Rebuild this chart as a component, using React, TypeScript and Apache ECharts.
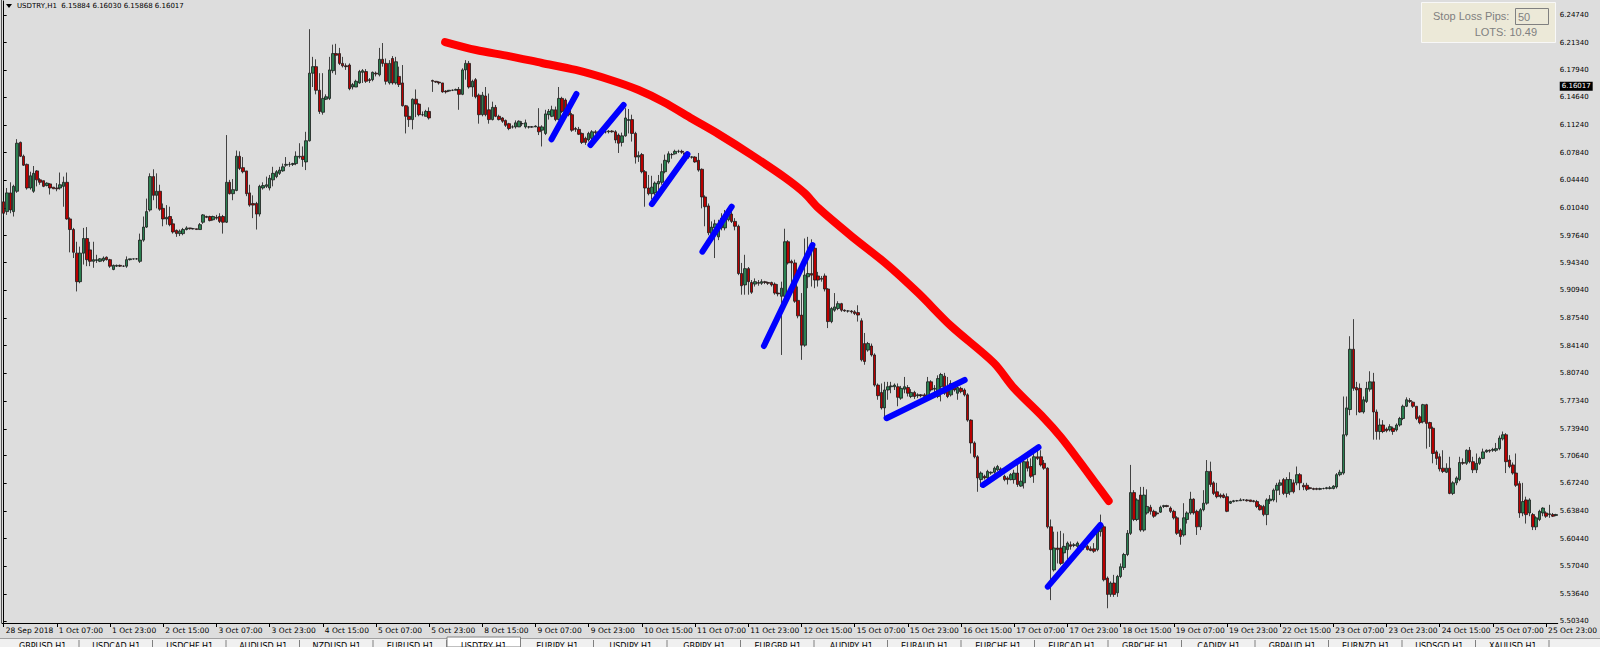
import React, { useEffect, useRef } from "react";
import * as echarts from "echarts";

type Bar = [number, number, number, number]; // open, close, low, high

// 28 Sep - 4 Oct
const BARS_A: Bar[] = [
  [6.018,6.004,6.000,6.020],[6.006,6.029,6.002,6.035],[6.029,6.008,6.004,6.042],[6.006,6.037,6.000,6.039],
  [6.031,6.090,6.029,6.095],[6.091,6.074,6.073,6.092],[6.074,6.063,6.062,6.076],[6.064,6.035,6.033,6.065],
  [6.035,6.050,6.033,6.055],[6.031,6.053,6.029,6.062],[6.056,6.045,6.037,6.057],[6.045,6.042,6.039,6.047],
  [6.044,6.037,6.036,6.044],[6.038,6.041,6.037,6.042],[6.040,6.035,6.027,6.041],[6.036,6.034,6.034,6.036],
  [6.035,6.034,6.031,6.041],[6.035,6.039,6.033,6.054],[6.037,6.042,6.012,6.049],[6.042,5.997,5.996,6.054],
  [5.997,5.984,5.956,5.999],[5.984,5.956,5.949,5.986],[5.955,5.920,5.908,5.969],[5.920,5.955,5.918,5.963],
  [5.955,5.973,5.941,5.986],[5.973,5.947,5.939,5.987],[5.959,5.945,5.939,5.969],[5.945,5.947,5.937,5.969],
  [5.946,5.947,5.943,5.953],[5.945,5.948,5.944,5.949],[5.946,5.949,5.944,5.951],[5.950,5.947,5.946,5.951],
  [5.947,5.939,5.937,5.948],[5.935,5.940,5.934,5.941],[5.939,5.940,5.938,5.941],[5.940,5.939,5.938,5.941],
  [5.939,5.939,5.938,5.940],[5.939,5.947,5.937,5.951],[5.947,5.948,5.946,5.948],[5.948,5.948,5.947,5.948],
  [5.948,5.948,5.947,5.949],[5.945,5.971,5.943,5.979],[5.971,5.987,5.969,6.000],[5.987,6.006,5.986,6.022],
  [6.008,6.049,6.006,6.053],[6.049,6.026,6.020,6.058],[6.026,6.031,6.010,6.053],[6.031,6.009,6.007,6.039],
  [6.010,5.997,5.988,6.016],[5.997,5.999,5.990,6.014],[6.000,5.990,5.988,6.012],[5.991,5.981,5.979,5.997],
  [5.983,5.979,5.975,5.984],[5.979,5.982,5.976,5.984],[5.979,5.984,5.977,5.986],[5.984,5.986,5.983,5.988],
  [5.986,5.985,5.984,5.986],[5.985,5.985,5.984,5.986],[5.985,5.984,5.984,5.985],[5.984,5.990,5.984,5.992],
  [5.993,6.002,5.991,6.003],[6.000,5.999,5.998,6.001],[6.000,5.995,5.994,6.001],[5.996,6.000,5.995,6.001],
  [5.999,5.998,5.996,6.002],[6.000,5.994,5.992,6.004],[6.000,5.993,5.979,6.002],[5.993,6.042,5.992,6.100],
  [6.042,6.028,6.027,6.045],[6.028,6.033,6.020,6.046],[6.032,6.074,6.031,6.081],[6.074,6.059,6.057,6.080],
  [6.060,6.055,6.053,6.073],[6.056,6.028,6.025,6.056],[6.029,6.014,6.012,6.039],[6.016,6.014,5.998,6.026],
  [6.016,6.003,5.984,6.018],[6.003,6.037,6.000,6.039],[6.035,6.038,6.033,6.042],[6.037,6.039,6.035,6.049],
  [6.035,6.047,6.032,6.051],[6.045,6.053,6.037,6.061],[6.049,6.055,6.047,6.057],[6.053,6.057,6.051,6.061],
  [6.056,6.061,6.055,6.065],[6.063,6.064,6.061,6.073],[6.064,6.064,6.061,6.067],[6.064,6.065,6.062,6.066],
  [6.065,6.074,6.063,6.080],[6.073,6.074,6.071,6.090],[6.074,6.070,6.061,6.086],[6.067,6.093,6.057,6.104],
  [6.093,6.176,6.092,6.230],[6.176,6.184,6.159,6.196],[6.184,6.155,6.150,6.193],
];

// 4 Oct - 9 Oct
const BARS_B: Bar[] = [
  [6.155,6.129,6.126,6.176],[6.128,6.145,6.125,6.176],[6.144,6.147,6.143,6.150],[6.145,6.180,6.143,6.196],
  [6.179,6.200,6.176,6.211],[6.200,6.198,6.174,6.212],[6.200,6.188,6.186,6.207],[6.188,6.185,6.183,6.196],
  [6.185,6.184,6.180,6.188],[6.186,6.157,6.155,6.188],[6.159,6.162,6.156,6.164],[6.159,6.166,6.159,6.168],
  [6.164,6.178,6.163,6.180],[6.177,6.179,6.164,6.181],[6.178,6.166,6.164,6.181],[6.168,6.167,6.164,6.170],
  [6.168,6.177,6.166,6.178],[6.176,6.175,6.172,6.178],[6.174,6.193,6.172,6.207],[6.193,6.188,6.184,6.213],
  [6.188,6.166,6.162,6.194],[6.164,6.188,6.162,6.192],[6.194,6.164,6.162,6.197],[6.164,6.190,6.162,6.196],
  [6.172,6.162,6.159,6.184],[6.164,6.136,6.135,6.186],[6.136,6.123,6.102,6.137],[6.123,6.119,6.110,6.135],
  [6.119,6.144,6.107,6.145],[6.144,6.138,6.122,6.156],[6.138,6.125,6.123,6.139],[6.125,6.125,6.123,6.129],
  [6.123,6.129,6.123,6.131],[6.129,6.121,6.119,6.134],[6.167,6.166,6.153,6.168],[6.166,6.165,6.164,6.166],
  [6.165,6.164,6.162,6.166],[6.164,6.153,6.152,6.164],[6.154,6.153,6.151,6.155],[6.154,6.155,6.153,6.155],
  [6.155,6.155,6.154,6.156],[6.155,6.156,6.155,6.157],[6.156,6.150,6.131,6.159],[6.150,6.180,6.149,6.182],
  [6.180,6.188,6.168,6.192],[6.188,6.159,6.157,6.191],[6.159,6.166,6.147,6.168],[6.168,6.147,6.145,6.170],
  [6.149,6.125,6.114,6.151],[6.125,6.149,6.123,6.153],[6.148,6.125,6.123,6.159],[6.131,6.119,6.114,6.151],
  [6.119,6.134,6.118,6.141],[6.134,6.123,6.122,6.137],[6.123,6.119,6.118,6.125],[6.121,6.117,6.115,6.122],
  [6.118,6.112,6.110,6.119],[6.114,6.108,6.106,6.115],[6.110,6.110,6.108,6.112],[6.110,6.115,6.108,6.118],
  [6.110,6.117,6.110,6.118],[6.114,6.114,6.111,6.117],[6.110,6.115,6.108,6.119],[6.110,6.110,6.108,6.111],
  [6.110,6.110,6.109,6.111],[6.110,6.111,6.110,6.112],[6.110,6.104,6.100,6.133],[6.106,6.110,6.086,6.112],
  [6.102,6.126,6.100,6.131],[6.125,6.129,6.119,6.132],[6.123,6.131,6.122,6.136],[6.131,6.119,6.117,6.135],
  [6.119,6.145,6.118,6.159],[6.145,6.129,6.127,6.147],[6.143,6.127,6.125,6.145],[6.133,6.125,6.123,6.135],
  [6.125,6.106,6.104,6.127],[6.108,6.107,6.104,6.110],[6.107,6.101,6.100,6.110],[6.102,6.091,6.089,6.103],
  [6.096,6.091,6.088,6.098],[6.094,6.102,6.092,6.104],[6.096,6.104,6.094,6.106],[6.104,6.103,6.101,6.106],
  [6.103,6.104,6.102,6.105],[6.104,6.104,6.103,6.105],[6.104,6.104,6.102,6.106],[6.104,6.105,6.102,6.106],
  [6.105,6.104,6.103,6.106],[6.104,6.094,6.090,6.106],[6.100,6.090,6.078,6.102],[6.091,6.099,6.086,6.103],
  [6.099,6.121,6.098,6.133],
];

// 10 Oct - 15 Oct
const BARS_C: Bar[] = [
  [6.118,6.119,6.102,6.132],[6.119,6.102,6.092,6.125],[6.102,6.073,6.065,6.104],[6.073,6.075,6.067,6.080],
  [6.076,6.055,6.053,6.078],[6.055,6.035,6.012,6.057],[6.035,6.028,6.026,6.051],[6.028,6.036,6.021,6.050],
  [6.029,6.041,6.026,6.043],[6.040,6.043,6.031,6.051],[6.042,6.055,6.039,6.065],[6.055,6.069,6.053,6.076],
  [6.067,6.077,6.065,6.080],[6.076,6.076,6.071,6.078],[6.077,6.080,6.076,6.082],[6.080,6.080,6.078,6.082],
  [6.080,6.079,6.077,6.082],[6.078,6.076,6.073,6.078],[6.074,6.073,6.071,6.076],[6.073,6.073,6.071,6.074],
  [6.073,6.067,6.066,6.074],[6.069,6.057,6.055,6.078],[6.058,6.024,6.010,6.059],[6.024,6.012,5.988,6.026],
  [6.013,5.980,5.977,6.016],[5.979,5.987,5.977,5.994],[5.986,5.991,5.949,5.996],[5.975,5.986,5.971,5.996],
  [5.986,5.998,5.983,6.004],[5.986,6.002,5.983,6.008],[5.996,6.004,5.994,6.010],[6.003,5.994,5.992,6.011],
  [5.994,5.988,5.983,5.998],[5.988,5.930,5.928,5.990],[5.930,5.915,5.904,5.943],[5.916,5.936,5.904,5.953],
  [5.936,5.920,5.904,5.938],[5.919,5.907,5.905,5.922],[5.917,5.920,5.914,5.924],[5.919,5.918,5.915,5.922],
  [5.918,5.920,5.916,5.923],[5.920,5.919,5.917,5.921],[5.919,5.918,5.916,5.920],[5.919,5.916,5.914,5.920],
  [5.917,5.906,5.904,5.919],[5.906,5.905,5.902,5.917],[5.902,5.912,5.830,5.920],[5.902,5.969,5.900,5.985],
  [5.969,5.943,5.941,5.971],[5.945,5.943,5.914,5.947],[5.943,5.896,5.894,5.947],[5.897,5.878,5.875,5.914],
  [5.879,5.842,5.824,5.906],[5.842,5.928,5.840,5.973],[5.926,5.930,5.912,5.975],[5.930,5.928,5.914,5.972],
  [5.961,5.922,5.912,5.963],[5.927,5.922,5.914,5.932],[5.924,5.923,5.920,5.927],[5.927,5.911,5.908,5.930],
  [5.911,5.871,5.863,5.912],[5.871,5.887,5.869,5.889],[5.885,5.889,5.883,5.906],[5.887,5.893,5.885,5.896],
  [5.893,5.885,5.883,5.894],[5.885,5.884,5.883,5.886],[5.884,5.884,5.882,5.885],[5.884,5.883,5.881,5.885],
  [5.883,5.881,5.879,5.885],[5.882,5.879,5.871,5.891],[5.872,5.824,5.822,5.875],[5.844,5.822,5.818,5.857],
  [5.836,5.844,5.834,5.846],[5.841,5.830,5.828,5.844],[5.830,5.793,5.791,5.832],[5.793,5.780,5.775,5.795],
  [5.784,5.765,5.763,5.795],[5.765,5.787,5.754,5.797],[5.787,5.791,5.775,5.797],[5.791,5.792,5.783,5.797],
  [5.791,5.793,5.787,5.795],[5.791,5.778,5.767,5.795],[5.777,5.789,5.775,5.792],[5.788,5.791,5.783,5.803],
  [5.790,5.783,5.779,5.793],[5.779,5.784,5.777,5.788],[5.784,5.779,5.776,5.786],[5.780,5.781,5.777,5.783],
  [5.781,5.780,5.778,5.782],[5.781,5.779,5.777,5.783],[5.779,5.797,5.777,5.803],[5.797,5.787,5.785,5.799],
  [5.788,5.789,5.783,5.793],
];

// 16 Oct - 19 Oct
const BARS_D: Bar[] = [
  [5.779,5.801,5.777,5.805],[5.791,5.806,5.773,5.808],[5.804,5.783,5.781,5.808],[5.791,5.779,5.777,5.803],
  [5.781,5.795,5.779,5.799],[5.792,5.787,5.785,5.793],[5.783,5.790,5.775,5.793],[5.789,5.785,5.783,5.791],
  [5.787,5.781,5.779,5.789],[5.781,5.750,5.748,5.783],[5.750,5.722,5.709,5.751],[5.722,5.705,5.703,5.724],
  [5.705,5.679,5.662,5.707],[5.677,5.685,5.668,5.687],[5.681,5.679,5.677,5.683],[5.679,5.687,5.677,5.689],
  [5.685,5.686,5.683,5.687],[5.686,5.691,5.684,5.693],[5.689,5.693,5.687,5.695],[5.690,5.685,5.681,5.692],
  [5.681,5.677,5.675,5.683],[5.679,5.677,5.671,5.681],[5.677,5.683,5.676,5.685],[5.677,5.685,5.672,5.689],
  [5.685,5.671,5.668,5.701],[5.669,5.675,5.668,5.699],[5.673,5.699,5.666,5.705],[5.699,5.691,5.687,5.703],
  [5.693,5.681,5.679,5.703],[5.683,5.705,5.673,5.716],[5.705,5.703,5.701,5.718],[5.705,5.695,5.693,5.713],
  [5.697,5.691,5.689,5.701],[5.691,5.619,5.617,5.692],[5.619,5.591,5.529,5.628],[5.566,5.593,5.564,5.613],
  [5.593,5.591,5.574,5.613],[5.593,5.574,5.572,5.614],[5.587,5.595,5.574,5.611],[5.591,5.599,5.578,5.601],
  [5.597,5.595,5.591,5.601],[5.596,5.597,5.594,5.599],[5.595,5.599,5.593,5.601],[5.596,5.595,5.593,5.597],
  [5.595,5.594,5.591,5.597],[5.595,5.591,5.590,5.597],[5.592,5.590,5.589,5.595],[5.592,5.589,5.587,5.599],
  [5.591,5.617,5.589,5.621],[5.613,5.619,5.607,5.634],[5.619,5.554,5.552,5.621],[5.556,5.536,5.519,5.558],
  [5.536,5.550,5.533,5.552],[5.550,5.536,5.533,5.560],[5.538,5.558,5.533,5.560],[5.558,5.570,5.556,5.574],
  [5.569,5.585,5.566,5.587],[5.585,5.611,5.583,5.615],[5.611,5.661,5.609,5.695],[5.661,5.628,5.626,5.664],
  [5.628,5.652,5.626,5.654],[5.658,5.615,5.613,5.668],[5.615,5.658,5.613,5.668],[5.636,5.644,5.634,5.665],
  [5.643,5.638,5.634,5.646],[5.638,5.632,5.630,5.640],[5.636,5.635,5.633,5.638],[5.637,5.643,5.636,5.645],
  [5.644,5.645,5.642,5.646],[5.645,5.644,5.643,5.646],[5.642,5.638,5.636,5.644],[5.638,5.630,5.628,5.640],
  [5.630,5.611,5.609,5.632],[5.615,5.607,5.597,5.617],[5.609,5.630,5.607,5.648],[5.628,5.636,5.623,5.638],
  [5.636,5.653,5.634,5.662],[5.653,5.636,5.634,5.654],[5.638,5.619,5.609,5.640],[5.619,5.640,5.615,5.642],
  [5.640,5.648,5.638,5.664],[5.648,5.687,5.646,5.701],[5.687,5.671,5.668,5.699],[5.673,5.660,5.658,5.675],
  [5.662,5.656,5.654,5.673],[5.658,5.656,5.654,5.660],[5.658,5.655,5.654,5.660],[5.656,5.638,5.637,5.660],
  [5.648,5.650,5.647,5.651],[5.650,5.651,5.649,5.652],[5.651,5.651,5.650,5.652],[5.651,5.652,5.651,5.654],
  [5.652,5.652,5.651,5.653],
];

// 22 Oct - 26 Oct
const BARS_E: Bar[] = [
  [5.652,5.651,5.650,5.653],[5.652,5.650,5.650,5.652],[5.651,5.650,5.649,5.652],[5.650,5.644,5.642,5.652],
  [5.645,5.640,5.639,5.647],[5.644,5.634,5.632,5.646],[5.634,5.652,5.621,5.654],[5.651,5.653,5.647,5.658],
  [5.652,5.664,5.650,5.666],[5.664,5.670,5.649,5.673],[5.670,5.673,5.658,5.677],[5.677,5.660,5.658,5.679],
  [5.660,5.677,5.655,5.680],[5.662,5.677,5.658,5.686],[5.673,5.662,5.660,5.677],[5.673,5.683,5.670,5.693],
  [5.683,5.673,5.664,5.685],[5.670,5.668,5.664,5.673],[5.670,5.665,5.663,5.673],[5.667,5.666,5.665,5.668],
  [5.666,5.665,5.664,5.667],[5.666,5.665,5.664,5.667],[5.665,5.666,5.664,5.667],[5.666,5.666,5.665,5.667],
  [5.666,5.667,5.665,5.668],[5.666,5.667,5.665,5.669],[5.666,5.669,5.665,5.670],[5.668,5.683,5.666,5.685],
  [5.683,5.686,5.681,5.689],[5.685,5.732,5.683,5.779],[5.732,5.765,5.730,5.779],[5.763,5.837,5.756,5.853],
  [5.837,5.789,5.786,5.874],[5.790,5.787,5.756,5.797],[5.789,5.760,5.759,5.795],[5.760,5.775,5.758,5.779],
  [5.773,5.789,5.771,5.797],[5.788,5.797,5.785,5.810],[5.797,5.760,5.726,5.808],[5.760,5.736,5.726,5.763],
  [5.736,5.744,5.726,5.752],[5.744,5.736,5.734,5.750],[5.739,5.737,5.735,5.741],[5.738,5.742,5.736,5.745],
  [5.740,5.736,5.732,5.742],[5.738,5.744,5.736,5.746],[5.744,5.752,5.742,5.754],[5.752,5.767,5.750,5.769],
  [5.767,5.775,5.766,5.778],[5.774,5.773,5.771,5.777],[5.772,5.767,5.765,5.773],[5.767,5.752,5.750,5.767],
  [5.754,5.747,5.745,5.756],[5.748,5.769,5.746,5.770],[5.769,5.746,5.715,5.770],[5.747,5.740,5.717,5.748],
  [5.740,5.709,5.697,5.742],[5.711,5.703,5.695,5.713],[5.705,5.690,5.687,5.709],[5.691,5.687,5.685,5.713],
  [5.686,5.691,5.685,5.697],[5.691,5.660,5.659,5.705],[5.660,5.673,5.658,5.675],[5.673,5.679,5.670,5.681],
  [5.677,5.698,5.675,5.705],[5.698,5.697,5.695,5.703],[5.697,5.713,5.695,5.714],[5.713,5.699,5.697,5.717],
  [5.699,5.689,5.685,5.705],[5.689,5.697,5.685,5.709],[5.697,5.703,5.695,5.705],[5.703,5.711,5.702,5.715],
  [5.711,5.713,5.710,5.714],[5.713,5.712,5.710,5.714],[5.713,5.714,5.711,5.716],[5.713,5.715,5.711,5.722],
  [5.715,5.728,5.713,5.731],[5.727,5.732,5.725,5.736],[5.732,5.699,5.685,5.734],[5.701,5.693,5.691,5.707],
  [5.695,5.685,5.683,5.698],[5.685,5.670,5.668,5.709],[5.672,5.636,5.630,5.675],[5.636,5.650,5.632,5.673],
  [5.652,5.634,5.623,5.656],[5.636,5.652,5.632,5.654],[5.634,5.619,5.615,5.636],[5.619,5.630,5.615,5.632],
  [5.628,5.638,5.626,5.640],[5.636,5.642,5.632,5.643],[5.636,5.632,5.630,5.638],[5.634,5.635,5.630,5.646],
  [5.634,5.632,5.631,5.636],[5.633,5.634,5.632,5.635],
];

const X_LABELS = [
  "28 Sep 2018","1 Oct 07:00","1 Oct 23:00","2 Oct 15:00","3 Oct 07:00","3 Oct 23:00",
  "4 Oct 15:00","5 Oct 07:00","5 Oct 23:00","8 Oct 15:00","9 Oct 07:00","9 Oct 23:00",
  "10 Oct 15:00","11 Oct 07:00","11 Oct 23:00","12 Oct 15:00","15 Oct 07:00","15 Oct 23:00",
  "16 Oct 15:00","17 Oct 07:00","17 Oct 23:00","18 Oct 15:00","19 Oct 07:00","19 Oct 23:00",
  "22 Oct 15:00","23 Oct 07:00","23 Oct 23:00","24 Oct 15:00","25 Oct 07:00","25 Oct 23:00",
];
const X_LABEL_STEP = 16;

const Y_TICKS = [
  5.5034, 5.5364, 5.5704, 5.6044, 5.6384, 5.6724, 5.7064, 5.7394, 5.7734, 5.8074, 5.8414, 5.8754,
  5.9094, 5.9434, 5.9764, 6.0104, 6.0444, 6.0784, 6.1124, 6.1464, 6.1794, 6.2134, 6.2474,
];
const Y_MIN = 5.5009;
const Y_MAX = 6.2646;
const LAST_PRICE = 6.16017;
const HEADER_TEXT = "USDTRY,H1  6.15884 6.16030 6.15868 6.16017";

// hand-drawn objects: [bar index, price]
const RED_CURVE: [number, number][] = [
  [132.8, 6.2142], [142.1, 6.2044], [152.0, 6.1970], [161.9, 6.1885], [172.1, 6.1799],
  [182.6, 6.1676], [191.0, 6.1553], [198.5, 6.1406], [207.2, 6.1197], [215.0, 6.1013],
  [225.0, 6.0755], [235.2, 6.0473], [240.9, 6.0288], [245.1, 6.0104], [255.0, 5.9760],
  [265.2, 5.9429], [275.1, 5.9061], [285.0, 5.8655], [297.9, 5.8201], [303.9, 5.7894],
  [312.9, 5.7526], [318.0, 5.7293], [324.0, 5.6973], [328.2, 5.6740], [332.4, 5.6507],
];
const BLUE_SEGMENTS: [number, number][][] = [
  [[164.8, 6.0948], [172.3, 6.1504]],
  [[176.5, 6.0878], [186.5, 6.1369]],
  [[195.0, 6.0154], [205.7, 6.0764]],
  [[210.2, 5.9568], [219.0, 6.0120]],
  [[228.7, 5.8410], [243.3, 5.9650]],
  [[265.6, 5.7523], [289.1, 5.7993]],
  [[294.6, 5.6704], [311.3, 5.7167]],
  [[314.1, 5.5455], [329.9, 5.6213]],
];

const TABS = [
  "GBPUSD,H1", "USDCAD,H1", "USDCHF,H1", "AUDUSD,H1", "NZDUSD,H1", "EURUSD,H1", "USDTRY,H1",
  "EURJPY,H1", "USDJPY,H1", "GBPJPY,H1", "EURGBP,H1", "AUDJPY,H1", "EURAUD,H1", "EURCHF,H1",
  "EURCAD,H1", "GBPCHF,H1", "CADJPY,H1", "GBPAUD,H1", "EURNZD,H1", "USDSGD,H1", "XAUUSD,H1",
];
const ACTIVE_TAB = "USDTRY,H1";

const UI_FONT = "DejaVu Sans";

export default function App() {
  const ref = useRef<HTMLDivElement>(null);

  useEffect(() => {
    document.body.style.margin = "0";
    const chart = echarts.init(ref.current as HTMLDivElement, null, { renderer: "svg" });
    const bars = [...BARS_A, ...BARS_B, ...BARS_C, ...BARS_D, ...BARS_E];
    const N = bars.length;
    const cats = bars.map((_, i) => String(i));

    const tabW = 73.5;
    const tabGraphics: any[] = [
      { type: "rect", shape: { x: 0, y: 638, width: 1600, height: 9 }, style: { fill: "#f0f0f0" }, z: 100 },
      { type: "line", shape: { x1: 0, y1: 638.5, x2: 1600, y2: 638.5 }, style: { stroke: "#a0a0a0", lineWidth: 1 }, z: 101 },
    ];
    TABS.forEach((t, i) => {
      const x0 = 6 + i * tabW;
      if (t === ACTIVE_TAB) {
        tabGraphics.push({ type: "rect", shape: { x: x0, y: 637, width: tabW, height: 10 }, style: { fill: "#ffffff", stroke: "#808080", lineWidth: 1 }, z: 102 });
      } else {
        tabGraphics.push({ type: "line", shape: { x1: x0 + tabW - 0.5, y1: 640, x2: x0 + tabW - 0.5, y2: 647 }, style: { stroke: "#808080", lineWidth: 1 }, z: 102 });
      }
      tabGraphics.push({
        type: "text", z: 103,
        style: { text: t, x: x0 + tabW / 2, y: 642, align: "center", verticalAlign: "top", fill: "#000", fontSize: 8, fontFamily: UI_FONT },
      });
    });

    chart.setOption({
      animation: false,
      backgroundColor: "#dddddd",
      grid: { left: 2, right: 39, top: 1, bottom: 24, containLabel: false },
      xAxis: [
        {
          type: "category",
          data: cats,
          boundaryGap: true,
          axisLine: { show: true, lineStyle: { color: "#000", width: 1 } },
          axisTick: { show: true, interval: X_LABEL_STEP - 1, alignWithLabel: true, length: 4, lineStyle: { color: "#000" } },
          axisLabel: {
            interval: X_LABEL_STEP - 1,
            align: "left",
            margin: 3,
            padding: [0, 0, 0, 2],
            color: "#000",
            fontSize: 7.5,
            fontFamily: UI_FONT,
            formatter: (_v: string, idx: number) => X_LABELS[Math.round(idx / X_LABEL_STEP)] ?? "",
          },
          splitLine: { show: false },
        },
        { type: "value", min: -0.5, max: N - 0.5, show: false },
      ],
      yAxis: {
        type: "value",
        position: "right",
        min: Y_MIN,
        max: Y_MAX,
        scale: true,
        axisLine: { show: true, lineStyle: { color: "#000", width: 1 } },
        axisTick: { show: true, length: 3, customValues: Y_TICKS, lineStyle: { color: "#000" } },
        axisLabel: {
          customValues: Y_TICKS,
          margin: 2,
          color: "#000",
          fontSize: 7,
          fontFamily: UI_FONT,
          formatter: (v: number) => v.toFixed(5),
        },
        splitLine: { show: false },
      },
      series: [
        {
          type: "candlestick",
          data: bars,
          xAxisIndex: 0,
          barWidth: 3,
          itemStyle: {
            color: "#2a8050",
            color0: "#b80000",
            borderColor: "#1a1a1a",
            borderColor0: "#1a1a1a",
            borderWidth: 0.8,
          },
          markLine: {
            silent: true,
            symbol: ["none", "none"],
            data: [{ yAxis: LAST_PRICE }],
            lineStyle: { color: "transparent", width: 0 },
            label: {
              show: true,
              position: "end",
              distance: 2,
              formatter: LAST_PRICE.toFixed(5),
              color: "#fff",
              backgroundColor: "#000",
              padding: [1, 2, 1, 2],
              fontSize: 7,
              fontFamily: UI_FONT,
            },
          },
        },
        {
          type: "line",
          xAxisIndex: 1,
          data: RED_CURVE,
          smooth: 0.3,
          symbol: "none",
          silent: true,
          z: 5,
          lineStyle: { color: "#ff0000", width: 8, cap: "round", join: "round" },
        },
        ...BLUE_SEGMENTS.map((seg) => ({
          type: "line",
          xAxisIndex: 1,
          data: seg,
          symbol: "none",
          silent: true,
          z: 6,
          lineStyle: { color: "#0000ff", width: 6, cap: "round" },
        })),
      ],
      graphic: [
        { type: "line", shape: { x1: 1.5, y1: 0, x2: 1.5, y2: 623 }, style: { stroke: "#555", lineWidth: 1 }, z: 50 },
        { type: "polygon", shape: { points: [[6, 4], [12, 4], [9, 8]] }, style: { fill: "#000" }, z: 50 },
        {
          type: "text", z: 50,
          style: { text: HEADER_TEXT, x: 17, y: 6, verticalAlign: "middle", fill: "#000", fontSize: 7, fontFamily: UI_FONT },
        },
        { type: "rect", shape: { x: 1421.5, y: 2.5, width: 134, height: 40 }, style: { fill: "#ece9d8", stroke: "#f8f8f8", lineWidth: 1 }, z: 50 },
        {
          type: "text", z: 51,
          style: { text: "Stop Loss Pips:", x: 1433, y: 16, verticalAlign: "middle", fill: "#808080", fontSize: 11, fontFamily: "Liberation Sans" },
        },
        { type: "rect", shape: { x: 1515.5, y: 8.5, width: 33, height: 16 }, style: { fill: "#ece9d8", stroke: "#808080", lineWidth: 1 }, z: 51 },
        {
          type: "text", z: 52,
          style: { text: "50", x: 1518, y: 16.5, verticalAlign: "middle", fill: "#808080", fontSize: 11, fontFamily: "Liberation Sans" },
        },
        {
          type: "text", z: 51,
          style: { text: "LOTS: 10.49", x: 1537, y: 32, align: "right", verticalAlign: "middle", fill: "#808080", fontSize: 11, fontFamily: "Liberation Sans" },
        },
        ...tabGraphics,
      ],
    });

    return () => chart.dispose();
  }, []);

  return <div ref={ref} style={{ width: 1600, height: 647 }} />;
}
